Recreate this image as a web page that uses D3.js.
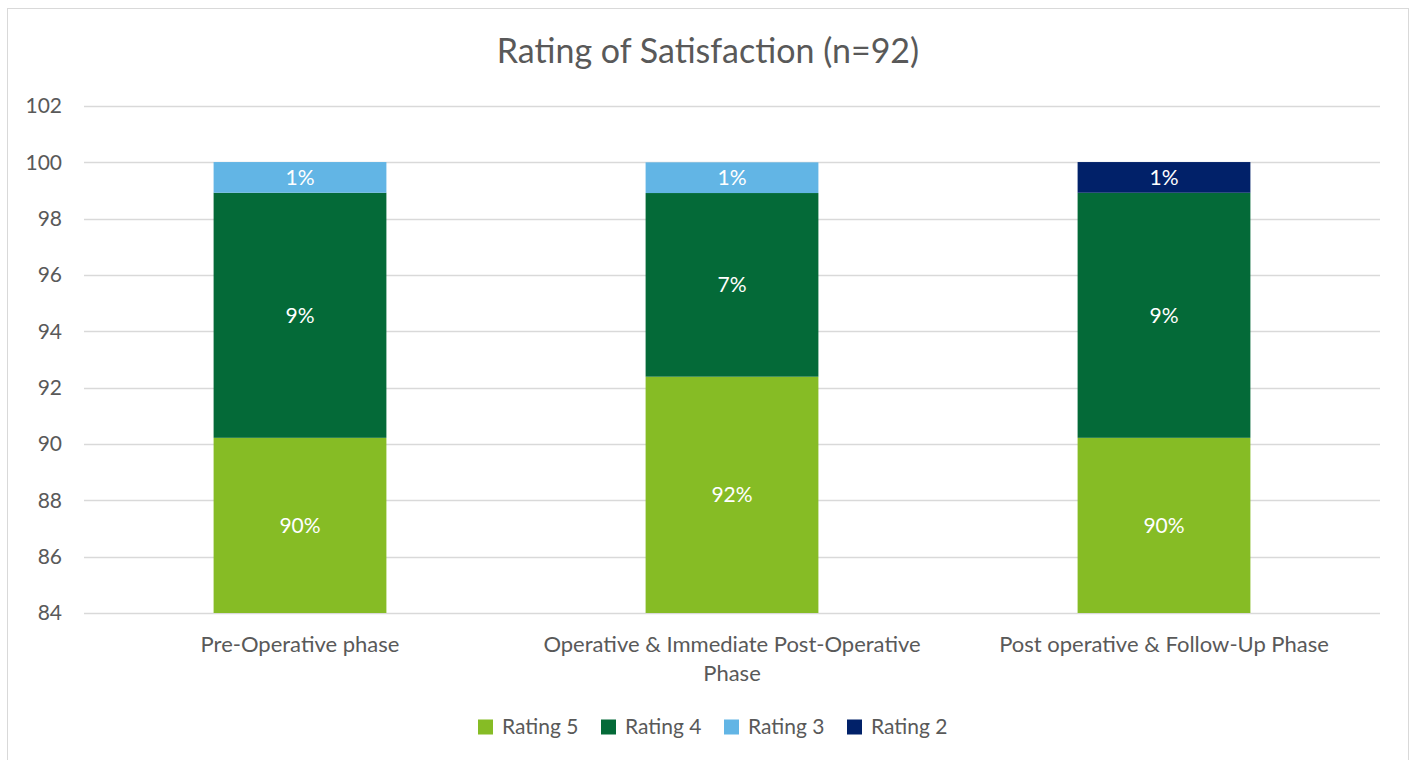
<!DOCTYPE html>
<html>
<head>
<meta charset="utf-8">
<script src="https://cdn.jsdelivr.net/npm/d3@7"></script>
<style>
  body { margin: 0; background: #fff; }
  svg text { font-family: Lato, "Open Sans", sans-serif; }
</style>
</head>
<body>
<svg id="chart" width="1413" height="760"></svg>
<script>
// rating of satisfaction, stacked bars (percent of n=92)
const categories = ["Pre-Operative phase", "Operative & Immediate Post-Operative Phase", "Post operative & Follow-Up Phase"];
const series = ["Rating 5", "Rating 4", "Rating 3", "Rating 2"];
const rating5 = [90.22, 92.39, 90.22];
const rating4 = [8.70, 6.52, 8.70];
const rating3 = [1.09, 1.09, 0];
const rating2 = [0, 0, 1.09];
const yTicks = [84, 86, 88, 90, 92, 94, 96, 98, 100, 102];
const colors = ["#86bc25", "#046a38", "#62b5e5", "#012169"];

var svg = d3.select("#chart");
var margin = { top: 106, left: 84, right: 33, bottom: 147 };
var width = 1413 - margin.left - margin.right;
var height = 760 - margin.top - margin.bottom;

// outer frame
svg.append("rect")
  .attr("x", 7.5).attr("y", 8.5)
  .attr("width", 1401).attr("height", 770)
  .attr("fill", "none").attr("stroke", "#d9d9d9");

svg.append("text")
  .attr("x", 708).attr("y", 63)
  .attr("text-anchor", "middle")
  .attr("fill", "#595959")
  .style("font-size", "34px")
  .text("Rating of Satisfaction (n=92)");

var x = d3.scaleBand().domain(categories).range([0, width]).paddingInner(0.6).paddingOuter(0.3);
var y = d3.scaleLinear().domain([84, 102]).range([height, 0]);

var g = svg.append("g").attr("transform", "translate(" + margin.left + "," + margin.top + ")");

// grid
g.selectAll(".grid").data(yTicks).enter().append("line")
  .attr("x1", 0).attr("x2", width)
  .attr("y1", function (d) { return Math.round(y(d)) + 0.5; })
  .attr("y2", function (d) { return Math.round(y(d)) + 0.5; })
  .attr("stroke", "#d9d9d9").attr("stroke-width", 1.5);

var yAxis = d3.axisLeft(y).tickValues(yTicks).tickSize(0).tickPadding(22);
var ya = g.append("g").call(yAxis);
ya.select(".domain").remove();
ya.selectAll("text").attr("fill", "#595959").style("font-size", "21px");

// stack
var rows = categories.map(function (c, i) {
  return { cat: c, "Rating 5": rating5[i], "Rating 4": rating4[i], "Rating 3": rating3[i], "Rating 2": rating2[i] };
});
var stacked = d3.stack().keys(series)(rows);

var layers = g.selectAll(".layer").data(stacked).enter().append("g")
  .attr("fill", function (d, i) { return colors[i]; });

layers.selectAll("rect").data(function (d) { return d; }).enter()
  .filter(function (d) { return d[1] - d[0] > 0; })
  .append("rect")
  .attr("x", function (d) { return x(d.data.cat); })
  .attr("width", x.bandwidth())
  .attr("y", function (d) { return y(d[1]); })
  .attr("height", function (d) { return y(Math.max(d[0], 84)) - y(d[1]); });

layers.selectAll("text").data(function (d) { return d; }).enter()
  .filter(function (d) { return d[1] - d[0] > 0; })
  .append("text")
  .attr("x", function (d) { return x(d.data.cat) + x.bandwidth() / 2; })
  .attr("y", function (d) { return (y(Math.max(d[0], 84)) + y(d[1])) / 2; })
  .attr("dy", "0.35em")
  .attr("text-anchor", "middle")
  .attr("fill", "#fff")
  .style("font-size", "21px")
  .text(function (d) { return Math.round(d[1] - d[0]) + "%"; });

// category labels
var xAxis = d3.axisBottom(x).tickSize(0).tickPadding(0);
var xa = g.append("g").attr("transform", "translate(0," + height + ")").call(xAxis);
xa.select(".domain").remove();
xa.selectAll("text").remove();
xa.selectAll(".tick").each(function (d) {
  var lines = d === categories[1] ? ["Operative & Immediate Post-Operative", "Phase"] : [d];
  var t = d3.select(this).append("text")
    .attr("text-anchor", "middle")
    .attr("fill", "#595959")
    .style("font-size", "22px");
  lines.forEach(function (l, i) {
    t.append("tspan").attr("x", 0).attr("y", 39 + i * 29).text(l);
  });
});

// legend
var legendX = [478, 601, 724, 847];
var lg = svg.append("g").attr("transform", "translate(0,727)");
series.forEach(function (s, i) {
  lg.append("rect").attr("x", legendX[i]).attr("y", -7.5).attr("width", 15).attr("height", 15).attr("fill", colors[i]);
  lg.append("text").attr("x", legendX[i] + 24).attr("y", 0).attr("dy", "0.35em")
    .attr("fill", "#595959").style("font-size", "21px").text(s);
});
</script>
</body>
</html>
